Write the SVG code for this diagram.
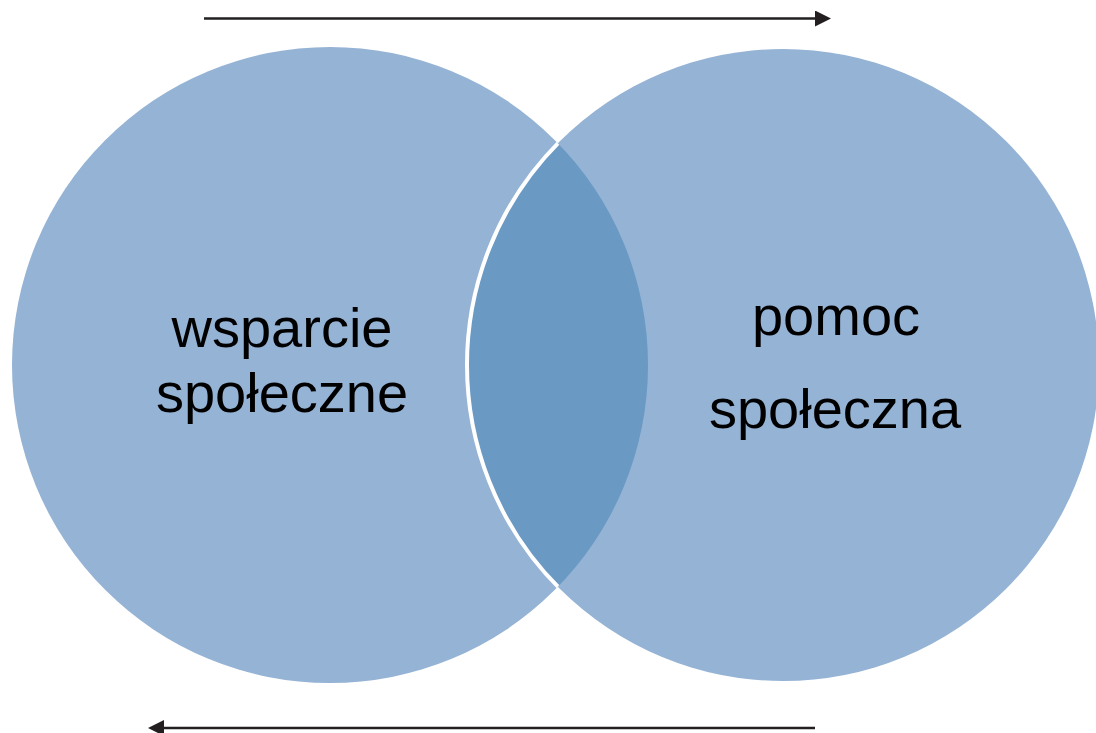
<svg xmlns="http://www.w3.org/2000/svg" width="1096" height="733" viewBox="0 0 1096 733">
<style>
.c{fill:#95b3d5}
.ov{fill:#6a99c3}
.lbl{font-family:"Liberation Sans",Arial,sans-serif;font-size:56px;fill:#000;text-anchor:middle}
.arr{stroke:#231f20;stroke-width:2.5;fill:none}
</style>
<defs>
<marker id="ah" viewBox="0 0 16 16" refX="0" refY="8" markerWidth="16" markerHeight="16" markerUnits="userSpaceOnUse" orient="auto">
<path d="M0,0 L16,8 L0,16 Z" fill="#231f20"/>
</marker>
<clipPath id="clipL"><circle cx="330" cy="365" r="318"/></clipPath>
</defs>
<rect width="1096" height="733" fill="#fff"/>
<g id="node-wsparcie">
<circle class="c" cx="330" cy="365" r="318"/>
</g>
<g id="node-pomoc">
<circle class="c" cx="783" cy="365" r="316"/>
</g>
<g id="overlap">
<circle class="ov" cx="783" cy="365" r="316" clip-path="url(#clipL)"/>
<circle cx="783" cy="365" r="316" fill="none" stroke="#fff" stroke-width="4" clip-path="url(#clipL)"/>
</g>
<g id="labels">
<text class="lbl" x="282" y="347">wsparcie</text>
<text class="lbl" x="282" y="412">społeczne</text>
<text class="lbl" x="836" y="335">pomoc</text>
<text class="lbl" x="835" y="428">społeczna</text>
</g>
<g id="connectors">
<line class="arr" x1="204" y1="18.5" x2="815" y2="18.5" marker-end="url(#ah)"/>
<line class="arr" x1="815" y1="728" x2="164" y2="728" marker-end="url(#ah)"/>
</g>
</svg>
